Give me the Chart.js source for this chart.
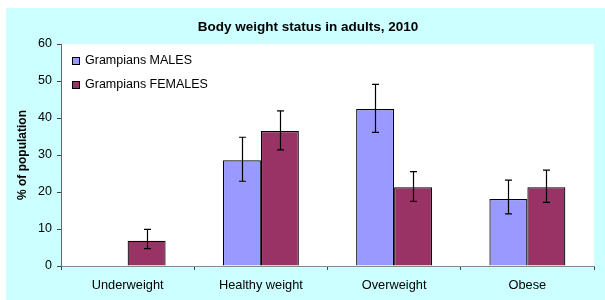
<!DOCTYPE html>
<html lang="en">
<head>
  <meta charset="UTF-8" />
  <title>Body weight status in adults, 2010</title>
  <script src="https://cdn.jsdelivr.net/npm/chart.js"></script>
  <style>html,body{margin:0;padding:0;background:#fff;}#wrap{width:605px;height:300px;}</style>
</head>
<body>
  <div id="wrap"><canvas id="chart" width="605" height="300"></canvas></div>
  <script>
    const TITLE = 'Body weight status in adults, 2010';
    const categories = ['Underweight', 'Healthy weight', 'Overweight', 'Obese'];
    const males = [0, 28.6, 42.4, 18.1];
    const malesLow = [null, 22.9, 36.1, 14.1];
    const malesHigh = [null, 34.8, 49.1, 23.2];
    const females = [6.8, 36.5, 21.3, 21.3];
    const femalesLow = [4.7, 31.4, 17.5, 17.2];
    const femalesHigh = [9.9, 41.9, 25.5, 25.9];
    const yTicks = [0, 10, 20, 30, 40, 50, 60];

    const FONT = '"Liberation Sans", Arial, sans-serif';

    // background, white plot area, title, legend and error bars
    const decor = {
      id: 'decor',
      beforeDraw(c) {
        const ctx = c.ctx, a = c.chartArea;
        ctx.save();
        ctx.fillStyle = '#ccffff';
        ctx.fillRect(6, 8, c.width - 6, c.height - 8);
        ctx.fillStyle = '#fff';
        ctx.fillRect(a.left, a.top, a.right - a.left, a.bottom - a.top);
        ctx.fillStyle = '#000';
        ctx.font = 'bold 13.5px ' + FONT;
        ctx.textAlign = 'center';
        ctx.textBaseline = 'middle';
        ctx.fillText(TITLE, 308, 27);
        ctx.restore();
      },
      afterDatasetsDraw(c) {
        const ctx = c.ctx, y = c.scales.y;
        const errs = [[malesLow, malesHigh], [femalesLow, femalesHigh]];
        ctx.save();
        ctx.strokeStyle = '#000';
        ctx.lineWidth = 1.2;
        c.data.datasets.forEach((ds, i) => {
          const meta = c.getDatasetMeta(i);
          meta.data.forEach((bar, j) => {
            const lo = errs[i][0][j], hi = errs[i][1][j];
            if (lo == null) return;
            const x = Math.round(bar.x) + 0.5;
            const y1 = y.getPixelForValue(lo), y2 = y.getPixelForValue(hi);
            ctx.beginPath();
            ctx.moveTo(x, y1); ctx.lineTo(x, y2);
            ctx.moveTo(x - 3.5, y1); ctx.lineTo(x + 3.5, y1);
            ctx.moveTo(x - 3.5, y2); ctx.lineTo(x + 3.5, y2);
            ctx.stroke();
          });
        });
        // legend inside the plot area
        ctx.font = '12.5px ' + FONT;
        ctx.textAlign = 'left';
        ctx.textBaseline = 'middle';
        c.data.datasets.forEach((ds, i) => {
          const ly = 61 + i * 24;
          ctx.fillStyle = ds.backgroundColor;
          ctx.fillRect(72, ly - 4, 7, 7);
          ctx.strokeStyle = '#000';
          ctx.lineWidth = 1;
          ctx.strokeRect(72.5, ly - 3.5, 7, 7);
          ctx.fillStyle = '#000';
          ctx.fillText(ds.label, 85, ly);
        });
        ctx.restore();
      }
    };

    new Chart(document.getElementById('chart').getContext('2d'), {
      type: 'bar',
      data: {
        labels: categories,
        datasets: [
          { label: 'Grampians MALES', data: males, backgroundColor: '#9999ff', borderColor: '#000', borderWidth: 1.2 },
          { label: 'Grampians FEMALES', data: females, backgroundColor: '#993366', borderColor: '#000', borderWidth: 1.2 }
        ]
      },
      options: {
        responsive: false,
        animation: false,
        layout: { padding: { top: 44, right: 11, left: 0, bottom: 0 } },
        plugins: { legend: { display: false }, title: { display: false }, tooltip: { enabled: false } },
        datasets: { bar: { categoryPercentage: 0.57, barPercentage: 1 } },
        scales: {
          x: {
            afterFit(s) { s.height = 34; },
            grid: { offset: true, drawOnChartArea: false, drawTicks: true, tickLength: 4, color: '#444' },
            border: { color: '#888', width: 1 },
            ticks: { color: '#000', padding: 8, font: { family: FONT, size: 12.8 } }
          },
          y: {
            min: 0, max: 60,
            afterFit(s) { s.width = 61; },
            afterBuildTicks(s) { s.ticks = yTicks.map(v => ({ value: v })); },
            grid: { drawOnChartArea: false, drawTicks: true, tickLength: 4, color: '#444' },
            border: { color: '#666', width: 1 },
            ticks: { color: '#000', padding: 5, font: { family: FONT, size: 12.5 } },
            title: { display: true, text: '% of population', color: '#000', padding: { top: 15, bottom: 0 }, font: { family: FONT, size: 12, weight: 'bold' } }
          }
        }
      },
      plugins: [decor]
    });
  </script>
</body>
</html>
